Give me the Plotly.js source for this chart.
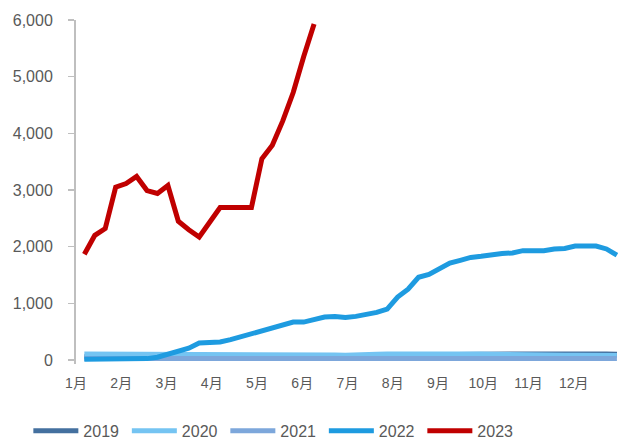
<!DOCTYPE html>
<html>
<head>
<meta charset="utf-8">
<script src="https://cdn.plot.ly/plotly-3.0.1.min.js"></script>
<style>html,body{margin:0;padding:0;background:#fff;}#chart{width:619px;height:441px;}</style>
</head>
<body>
<div id="chart"></div>
<script>
// Week index 0..51 (weekly observations through the year)
const monthLabels = ['1月','2月','3月','4月','5月','6月','7月','8月','9月','10月','11月','12月'];
const seriesNames = ['2019','2020','2021','2022','2023'];
const seriesColors = ['#44709F','#75C4F2','#7DA7DB','#1E9BE0','#C00000'];

const v2019 = [60,60,62,62,62,64,64,65,65,66,66,68,68,70,70,72,72,74,74,75,76,78,78,80,80,80,82,82,84,84,86,86,88,90,92,94,96,98,100,102,104,106,108,110,110,112,112,114,114,112,108,100];
const v2020 = [105,105,105,105,105,105,105,105,105,105,105,105,105,105,108,110,110,110,110,110,108,105,100,92,88,85,85,88,100,108,110,110,110,110,110,110,110,108,105,100,95,92,90,88,88,86,86,85,85,84,82,80];
const v2021 = [25,25,25,25,25,25,25,25,25,25,25,25,25,25,25,25,25,25,25,25,25,25,25,25,25,25,25,25,25,25,25,25,25,28,30,30,30,30,30,30,30,30,30,30,30,30,30,30,30,30,28,25];
const v2022 = [15,15,15,15,15,20,25,50,100,150,210,300,300,320,360,410,450,520,570,620,670,670,720,760,770,750,770,800,840,900,1110,1250,1460,1510,1600,1710,1760,1810,1830,1860,1880,1890,1930,1930,1930,1960,1970,2010,2010,2010,1960,1850];
const v2023 = [1866,2200,2320,3050,3115,3240,2990,2940,3080,2450,2300,2170,2430,2690,2690,2690,2690,3550,3790,4220,4720,5350,5930];

const allValues = [v2019, v2020, v2021, v2022, v2023];
const weeksPerMonth = 52 / 12;
const xStart = -0.8;
const tickVals = monthLabels.map((_, i) => xStart + i * weeksPerMonth);

const traces = allValues.map((vals, k) => ({
  type: 'scatter',
  mode: 'lines',
  name: seriesNames[k],
  x: vals.map((_, i) => i),
  y: vals,
  line: {color: seriesColors[k], width: 5, shape: 'linear'},
  hoverinfo: 'skip'
}));

const layout = {
  width: 619, height: 441,
  margin: {l: 76, r: 0, t: 19.5, b: 77},
  paper_bgcolor: '#ffffff',
  plot_bgcolor: '#ffffff',
  showlegend: true,
  font: {family: 'Liberation Sans, Arial, sans-serif', color: '#595959', size: 16},
  xaxis: {
    range: [xStart, xStart + 52],
    tickmode: 'array',
    tickvals: tickVals,
    ticktext: monthLabels,
    showgrid: false, zeroline: false, showline: false,
    ticks: '',
    ticklabelstandoff: 9,
    tickfont: {family: 'Liberation Sans, "Noto Sans CJK SC", sans-serif', size: 14, color: '#595959'}
  },
  yaxis: {
    range: [-70, 6000],
    tickmode: 'array',
    tickvals: [0,1000,2000,3000,4000,5000,6000],
    tickformat: ',d',
    showgrid: false, zeroline: false,
    showline: true, linecolor: '#BFBFBF', linewidth: 2,
    ticks: 'outside', ticklen: 6, tickcolor: '#BFBFBF', tickwidth: 1.5,
    ticklabelstandoff: 12,
    tickfont: {family: 'Liberation Sans, Arial, sans-serif', size: 16, color: '#595959'}
  },
  legend: {
    orientation: 'h',
    xref: 'container', yref: 'container',
    x: 0.0458, xanchor: 'left',
    y: 0.023, yanchor: 'middle',
    font: {size: 16, color: '#595959'},
    entrywidth: 38.5, entrywidthmode: 'pixels',
    itemwidth: 45,
    tracegroupgap: 0,
    bgcolor: 'rgba(0,0,0,0)'
  }
};

Plotly.newPlot('chart', traces, layout, {staticPlot: true, displayModeBar: false});
</script>
</body>
</html>
